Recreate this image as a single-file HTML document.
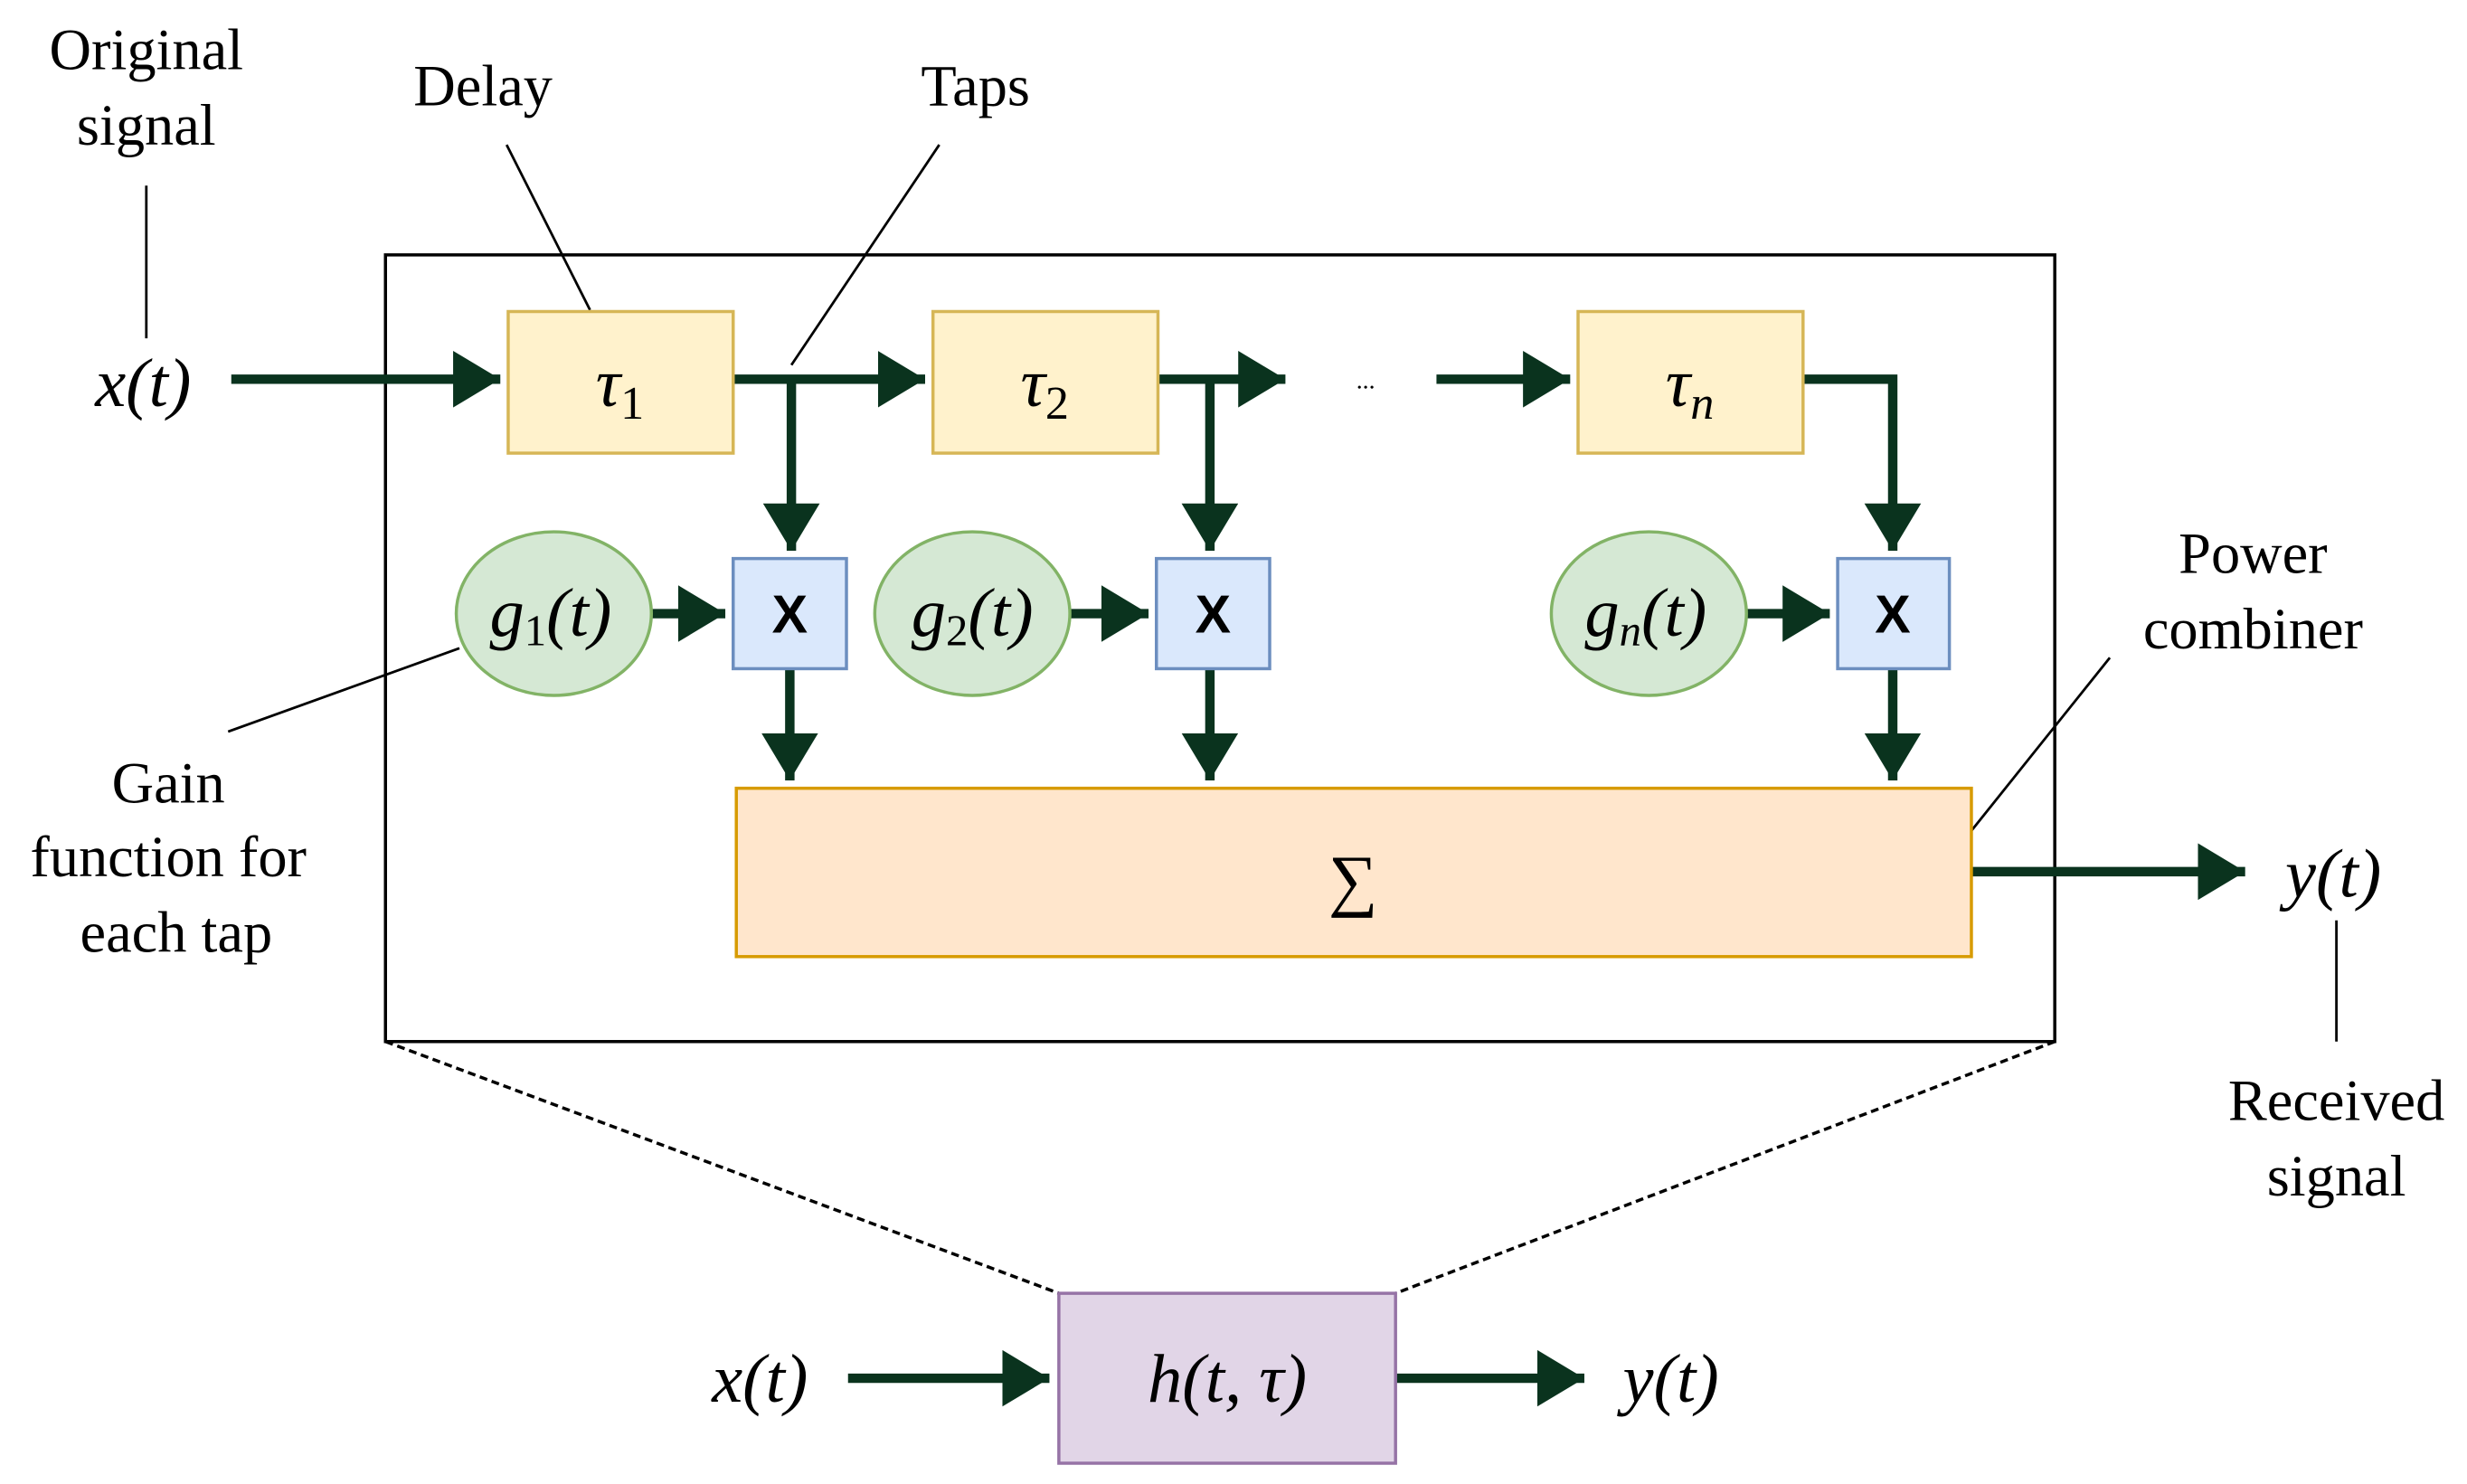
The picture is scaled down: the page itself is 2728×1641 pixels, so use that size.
<!DOCTYPE html>
<html><head><meta charset="utf-8"><style>html,body{margin:0;padding:0;background:#fff}svg{display:block}</style></head>
<body>
<svg width="2728" height="1641" viewBox="0 0 1568 943.2" xmlns="http://www.w3.org/2000/svg">
<defs>
<marker id="ah" markerWidth="6" markerHeight="6" refX="5" refY="3" orient="auto" markerUnits="strokeWidth">
<path d="M0,0 L5,3 L0,6 Z" fill="#0a331e"/></marker>
</defs>
<g font-family="Liberation Serif, serif" fill="#000">
<rect x="245" y="162" width="1061" height="500" fill="none" stroke="#000" stroke-width="2"/>
<line x1="245" y1="662" x2="673" y2="822" stroke="#000" stroke-width="2" stroke-dasharray="5,3"/>
<line x1="1306" y1="662" x2="887" y2="822" stroke="#000" stroke-width="2" stroke-dasharray="5,3"/>
<g stroke="#000" stroke-width="1.6">
<line x1="93" y1="118" x2="93" y2="215"/>
<line x1="322" y1="92" x2="375" y2="197"/>
<line x1="597" y1="92" x2="503" y2="232"/>
<line x1="145" y1="465" x2="292" y2="412"/>
<line x1="1341" y1="418" x2="1253" y2="528"/>
<line x1="1485" y1="585" x2="1485" y2="662"/>
</g>
<g stroke="#0a331e" stroke-width="6" fill="none" stroke-linejoin="miter">
<line x1="147" y1="241" x2="318" y2="241" marker-end="url(#ah)"/>
<line x1="466" y1="241" x2="588" y2="241" marker-end="url(#ah)"/>
<line x1="503" y1="241" x2="503" y2="350" marker-end="url(#ah)"/>
<line x1="736" y1="241" x2="817" y2="241" marker-end="url(#ah)"/>
<line x1="769" y1="241" x2="769" y2="350" marker-end="url(#ah)"/>
<line x1="913" y1="241" x2="998" y2="241" marker-end="url(#ah)"/>
<polyline points="1146,241 1203,241 1203,350" marker-end="url(#ah)"/>
<line x1="414" y1="390" x2="461" y2="390" marker-end="url(#ah)"/>
<line x1="680" y1="390" x2="730" y2="390" marker-end="url(#ah)"/>
<line x1="1110" y1="390" x2="1163" y2="390" marker-end="url(#ah)"/>
<line x1="502" y1="425" x2="502" y2="496" marker-end="url(#ah)"/>
<line x1="769" y1="425" x2="769" y2="496" marker-end="url(#ah)"/>
<line x1="1203" y1="425" x2="1203" y2="496" marker-end="url(#ah)"/>
<line x1="1253" y1="554" x2="1427" y2="554" marker-end="url(#ah)"/>
<line x1="539" y1="876" x2="667" y2="876" marker-end="url(#ah)"/>
<line x1="887" y1="876" x2="1007" y2="876" marker-end="url(#ah)"/>
</g>
<g stroke-width="2">
<rect x="323" y="198" width="143" height="90" fill="#fff2cc" stroke="#d6b656"/>
<rect x="593" y="198" width="143" height="90" fill="#fff2cc" stroke="#d6b656"/>
<rect x="1003" y="198" width="143" height="90" fill="#fff2cc" stroke="#d6b656"/>
<rect x="466" y="355" width="72" height="70" fill="#dae8fc" stroke="#6c8ebf"/>
<rect x="735" y="355" width="72" height="70" fill="#dae8fc" stroke="#6c8ebf"/>
<rect x="1168" y="355" width="71" height="70" fill="#dae8fc" stroke="#6c8ebf"/>
<ellipse cx="352" cy="390" rx="62" ry="52" fill="#d5e8d4" stroke="#82b366"/>
<ellipse cx="618" cy="390" rx="62" ry="52" fill="#d5e8d4" stroke="#82b366"/>
<ellipse cx="1048" cy="390" rx="62" ry="52" fill="#d5e8d4" stroke="#82b366"/>
<rect x="468" y="501" width="785" height="107" fill="#ffe6cc" stroke="#d79b00"/>
<rect x="673" y="822" width="214" height="108" fill="#e1d5e7" stroke="#9673a6"/>
</g>
<g font-size="37" text-anchor="middle">
<text x="93" y="44">Original</text>
<text x="93" y="92">signal</text>
<text x="307" y="67">Delay</text>
<text x="620" y="67">Taps</text>
<text x="107" y="510">Gain</text>
<text x="107" y="557">function for</text>
<text x="112" y="605">each tap</text>
<text x="1432" y="364">Power</text>
<text x="1432" y="412">combiner</text>
<text x="1485" y="712">Received</text>
<text x="1485" y="760">signal</text>
<text x="868" y="247" font-size="16">...</text>
</g>
<g font-size="44" font-style="italic" text-anchor="middle">
<text x="91" y="258">x(t)</text>
<text x="394" y="258">τ<tspan font-style="normal" font-size="30" dy="8">1</tspan></text>
<text x="664" y="258">τ<tspan font-style="normal" font-size="30" dy="8">2</tspan></text>
<text x="1074" y="258">τ<tspan font-size="30" dy="8">n</tspan></text>
<text x="350" y="404">g<tspan font-style="normal" font-size="28" dy="6">1</tspan><tspan dy="-6">(t)</tspan></text>
<text x="618" y="404">g<tspan font-style="normal" font-size="28" dy="6">2</tspan><tspan dy="-6">(t)</tspan></text>
<text x="1046" y="404">g<tspan font-size="28" dy="6">n</tspan><tspan dy="-6">(t)</tspan></text>
<text x="1483" y="570">y(t)</text>
<text x="483" y="891">x(t)</text>
<text x="780" y="891">h(t, τ)</text>
<text x="1062" y="891">y(t)</text>
</g>
<g font-family="Liberation Sans, sans-serif" font-size="34" text-anchor="middle" font-weight="bold">
<text x="502" y="402">X</text>
<text x="771" y="402">X</text>
<text x="1203" y="402">X</text>
</g>
<text x="860" y="574" font-size="44" text-anchor="middle">∑</text>
</g>
</svg>
</body></html>
